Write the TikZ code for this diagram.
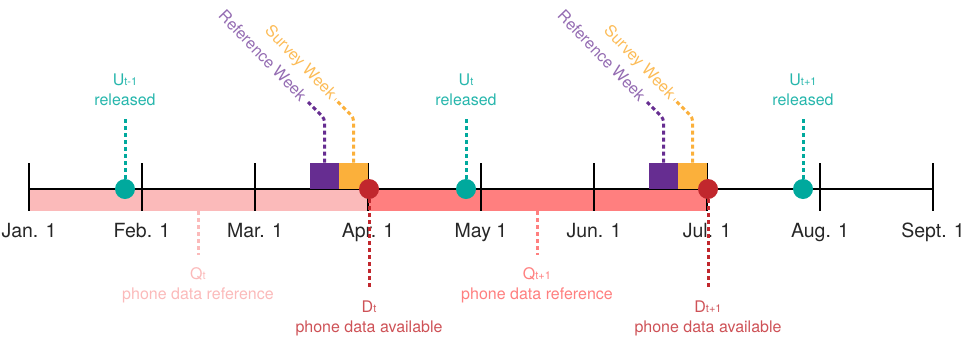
\documentclass[tikz,border=0pt]{standalone}
\usepackage{fontspec}
\setmainfont{TeX Gyre Heros}
\definecolor{relteal}{HTML}{00A99D}
\definecolor{refpurple}{HTML}{662D91}
\definecolor{survorange}{HTML}{FBB03B}
\definecolor{availred}{HTML}{C1272D}
\definecolor{qlight}{HTML}{FBBABA}
\definecolor{qsalmon}{HTML}{FF7F7F}
\newcommand{\smallsub}[1]{{\fontsize{11}{11}\selectfont #1}}

\tikzset{
    datelbl/.style={font=\fontsize{19.5}{19.5}\selectfont, text=black!85, anchor=base},
    infolbl/.style={font=\fontsize{16}{20}\selectfont, align=center, inner sep=0pt},
    leader/.style={line width=3pt, dash pattern=on 4pt off 3pt},
    evdot/.style={circle, fill=#1, minimum size=20pt, inner sep=0pt},
    weekbox/.style={fill=#1, minimum width=29pt, minimum height=26pt, inner sep=0pt, anchor=south west},
}

\begin{document}
\begin{tikzpicture}[x=1pt, y=-1pt]
    \useasboundingbox (0,0) rectangle (973,341);

    % quarter bands
    \fill[qlight] (29,189) rectangle (369,211);
    \fill[qsalmon] (369,189) rectangle (707,211);

    % axis and months
    \draw[line width=2pt] (29,189) -- (933,189);
    \foreach \m [count=\i from 0] in {Jan. 1, Feb. 1, Mar. 1, Apr. 1, May 1, Jun. 1, Jul. 1, Aug. 1, Sept. 1} {
        \draw[line width=2pt] (29+113*\i,163) -- (29+113*\i,211);
        \node[datelbl] (m\i) at (29+113*\i,237) {\m};
    }

    % survey and reference weeks
    \foreach \s [count=\k] in {0,339} {
        \node[weekbox=refpurple] (rw\k) at (310+\s,189) {};
        \node[weekbox=survorange] (sw\k) at (339+\s,189) {};
        \node[infolbl, text=refpurple!70, rotate=-46, anchor=east] (rwl\k) at (304+\s,98) {Reference Week};
        \node[infolbl, text=survorange!85, rotate=-46, anchor=east] (swl\k) at (333+\s,97) {Survey Week};
        \draw[leader, refpurple, rounded corners=4pt, shorten >=3pt] (rw\k.north) -- ++(0,-44) -- (rwl\k.east);
        \draw[leader, survorange, rounded corners=4pt, shorten >=3pt] (sw\k.north) -- ++(0,-45) -- (swl\k.east);
    }

    % releases
    \node[infolbl, text=relteal!85, anchor=south] (ul0) at (125,106) {U\smallsub{t-1}\\released};
    \node[infolbl, text=relteal!85, anchor=south] (ul1) at (466,106) {U\smallsub{t}\\released};
    \node[infolbl, text=relteal!85, anchor=south] (ul2) at (803,106) {U\smallsub{t+1}\\released};
    \node[evdot=relteal] (u0) at (125,189) {};
    \node[evdot=relteal] (u1) at (466,189) {};
    \node[evdot=relteal] (u2) at (803,189) {};
    \foreach \k in {0,1,2}
        \draw[leader, relteal, shorten <=13pt] (ul\k) -- (u\k);

    % phone data
    \foreach \s/\qs/\c [count=\k] in {0/t/qlight, 339/t+1/qsalmon} {
        \coordinate (q\k) at (198+\s,211);
        \node[infolbl, text=\c, anchor=north] (ql\k) at (198+\s,267) {Q\smallsub{\qs}\\phone data reference};
        \draw[leader, \c, shorten >=12pt] (q\k) -- (ql\k);
        \node[evdot=availred] (d\k) at (369+\s,189) {};
        \node[infolbl, text=availred!80, anchor=north] (dl\k) at (369+\s,301) {D\smallsub{\qs}\\phone data available};
        \draw[leader, availred, shorten >=12pt] (d\k) -- (dl\k);
    }
\end{tikzpicture}
\end{document}
